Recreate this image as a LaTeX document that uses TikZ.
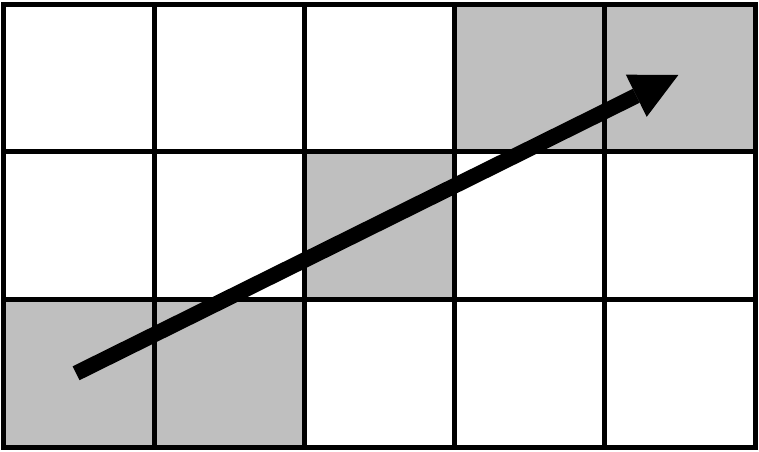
\documentclass[tikz,border=0pt]{standalone}
\usetikzlibrary{arrows.meta}
\begin{document}
\begin{tikzpicture}[x=150.2pt,y=-147.7pt,
  grid line/.style={line width=5pt,line cap=rect},
  shaded cell/.style={fill=black!25},
  motion/.style={line width=15.5pt,-{Triangle[length=47pt,width=47pt,line width=0pt]}}]

\useasboundingbox (-0.0266,-0.0271) rectangle (5.0266,3.0264);

% shaded cells (column/row)
\foreach \c/\r in {3/0,4/0,2/1,0/2,1/2}
  \fill[shaded cell] (\c,\r) rectangle ++(1,1);

% the grid
\foreach \c in {0,...,5}
  \draw[grid line] (\c,0) -- (\c,3);
\foreach \r in {0,...,3}
  \draw[grid line] (0,\r) -- (5,\r);

\coordinate (start) at (0.48,2.5);
\coordinate (end) at (4.49,0.48);
\draw[motion] (start) -- (end);
\end{tikzpicture}
\end{document}
